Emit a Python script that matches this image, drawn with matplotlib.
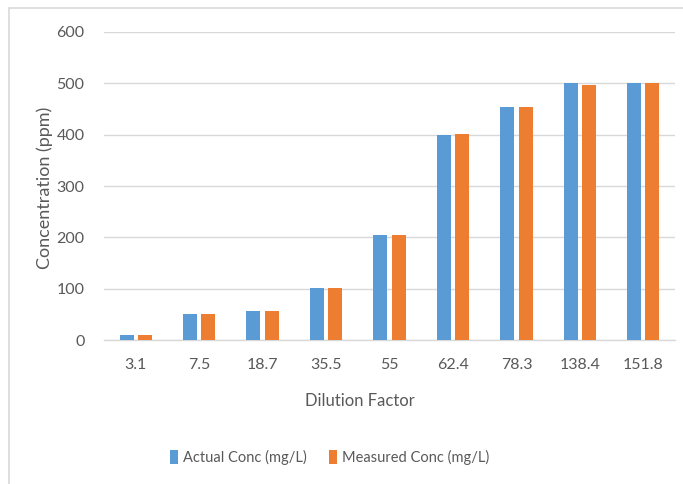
import numpy as np
import matplotlib.pyplot as plt
from matplotlib.patches import Rectangle

# data
dilution = ['3.1', '7.5', '18.7', '35.5', '55', '62.4', '78.3', '138.4', '151.8']
actual = [10, 50, 56, 102, 204, 399, 454, 501, 501]
measured = [10, 50, 56, 102, 204, 402, 454, 497, 501]

plt.rcParams['font.family'] = ['Lato', 'DejaVu Sans']
text_col = '#595959'
grid_col = '#d9d9d9'

W, H = 683, 484
fig = plt.figure(figsize=(W / 100, H / 100), dpi=100)
fig.patch.set_facecolor('white')

# chart border (only top and left visible in the crop)
fig.patches.append(Rectangle((9 / W, -0.1), 1.2, 1 - 8 / H + 0.1, transform=fig.transFigure,
                             fill=False, edgecolor=grid_col, linewidth=1.2))

ax = fig.add_axes([104 / W, 1 - 340 / H, (675 - 104) / W, (340 - 32) / H])
x = np.arange(len(dilution))
w = 0.22
ax.bar(x - 0.145, actual, w, color='#5B9BD5', label='Actual Conc (mg/L)', zorder=3)
ax.bar(x + 0.145, measured, w, color='#ED7D31', label='Measured Conc (mg/L)', zorder=3)

ax.set_xlim(-0.5, len(dilution) - 0.5)
ax.set_ylim(0, 600)
ax.set_yticks(range(0, 601, 100))
ax.set_xticks(x)
ax.set_xticklabels(dilution)
ax.yaxis.grid(True, color=grid_col, linewidth=1, zorder=0)
for s in ['top', 'right', 'left']:
    ax.spines[s].set_visible(False)
ax.spines['bottom'].set_color(grid_col)
ax.spines['bottom'].set_linewidth(1)
ax.tick_params(axis='both', length=0, labelsize=11.5, colors=text_col)
ax.tick_params(axis='x', pad=13)
ax.tick_params(axis='y', pad=14)

fig.text(45 / W, 1 - 188 / H, 'Concentration (ppm)', rotation=90, ha='center', va='center',
         fontsize=13, color=text_col)
fig.text(359.5 / W, 1 - 401 / H, 'Dilution Factor', ha='center', va='center',
         fontsize=12, color=text_col)

fig.legend(loc='center', bbox_to_anchor=(329.5 / W, 1 - 457 / H), ncol=2, frameon=False,
           fontsize=10.5, labelcolor=text_col, handlelength=0.55, handleheight=1.1,
           handletextpad=0.35, columnspacing=1.5)

fig.savefig('out.png', dpi=100)
